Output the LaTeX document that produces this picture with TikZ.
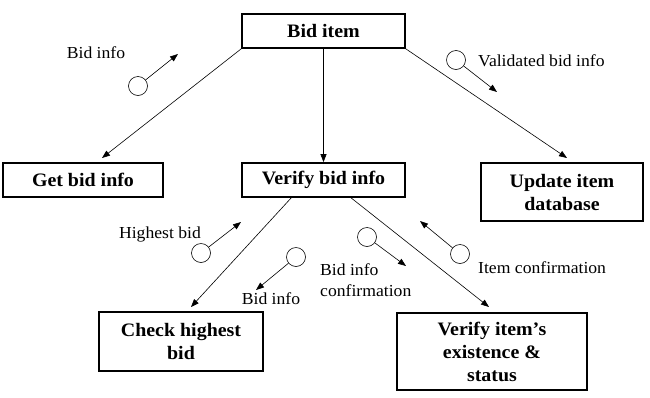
\documentclass[tikz,border=0pt]{standalone}
\usepackage{fontspec}
\setmainfont[FakeStretch=1.05]{Liberation Serif}
\usetikzlibrary{arrows.meta,calc}
\begin{document}
\begin{tikzpicture}[x=1pt,y=-1pt,
  box/.style={draw,line width=1.7pt,align=center,inner sep=0pt,
    font=\fontsize{19}{23}\selectfont\bfseries},
  lbl/.style={font=\fontsize{16.8}{21}\selectfont,inner sep=0pt},
  flow/.style={line width=0.6pt,-{Triangle[length=8pt,width=6pt]}},
  tok/.style={draw,circle,line width=0.6pt,minimum size=19pt,inner sep=0pt}]
\useasboundingbox (0,0) rectangle (650,397);
% boxes
\node[box,minimum width=163pt,minimum height=34pt] (bid) at (323.5,31) {Bid item};
\node[box,minimum width=160pt,minimum height=34pt] (get) at (83,180) {Get bid info};
\node[box,minimum width=163pt,minimum height=34pt] (ver) at (323.5,180) {Verify bid info};
\node[box,minimum width=162pt,minimum height=58pt] (upd) at (562,192) {Update item\\database};
\node[box,minimum width=164pt,minimum height=59pt] (chk) at (181,341.5) {Check highest\\bid};
\node[box,minimum width=190pt,minimum height=77pt] (vit) at (492,351.5) {Verify item’s\\existence \&\\status};
% connector end points
\coordinate (e1) at (102,158);
\coordinate (e3) at (567,158);
\coordinate (s4) at (292,197);
\coordinate (e4) at (191,307);
\coordinate (s5) at (350,197);
\coordinate (e5) at (489,307);
\draw[flow] (bid.south west) -- (e1);
\draw[flow] (bid.south) -- (ver.north);
\draw[flow] (bid.south east) -- (e3);
\draw[flow] (s4) -- (e4);
\draw[flow] (s5) -- (e5);
% tokens
\node[tok] (c1) at (138,86) {};
\node[tok] (c2) at (456,60) {};
\node[tok] (c3) at (201,253) {};
\node[tok] (c4) at (296,257) {};
\node[tok] (c5) at (367,237) {};
\node[tok] (c6) at (460,254) {};
\coordinate (t1) at (178,54);
\coordinate (t2) at (497,92);
\coordinate (t3) at (241,222);
\coordinate (t4) at (256,290);
\coordinate (t5) at (406,266);
\coordinate (t6) at (420,221);
\draw[flow] (c1) -- (t1);
\draw[flow] (c2) -- (t2);
\draw[flow] (c3) -- (t3);
\draw[flow] (c4) -- (t4);
\draw[flow] (c5) -- (t5);
\draw[flow] (c6) -- (t6);
% labels
\node[lbl] (l1) at (96,53) {Bid info};
\node[lbl,anchor=west] (l2) at (478,61) {Validated bid info};
\node[lbl] (l3) at (160,234) {Highest bid};
\node[lbl] (l4) at (271,299) {Bid info};
\node[lbl,anchor=west,align=left] (l5) at (320,280) {Bid info\\confirmation};
\node[lbl,anchor=west] (l6) at (478,268) {Item confirmation};
\end{tikzpicture}
\end{document}
